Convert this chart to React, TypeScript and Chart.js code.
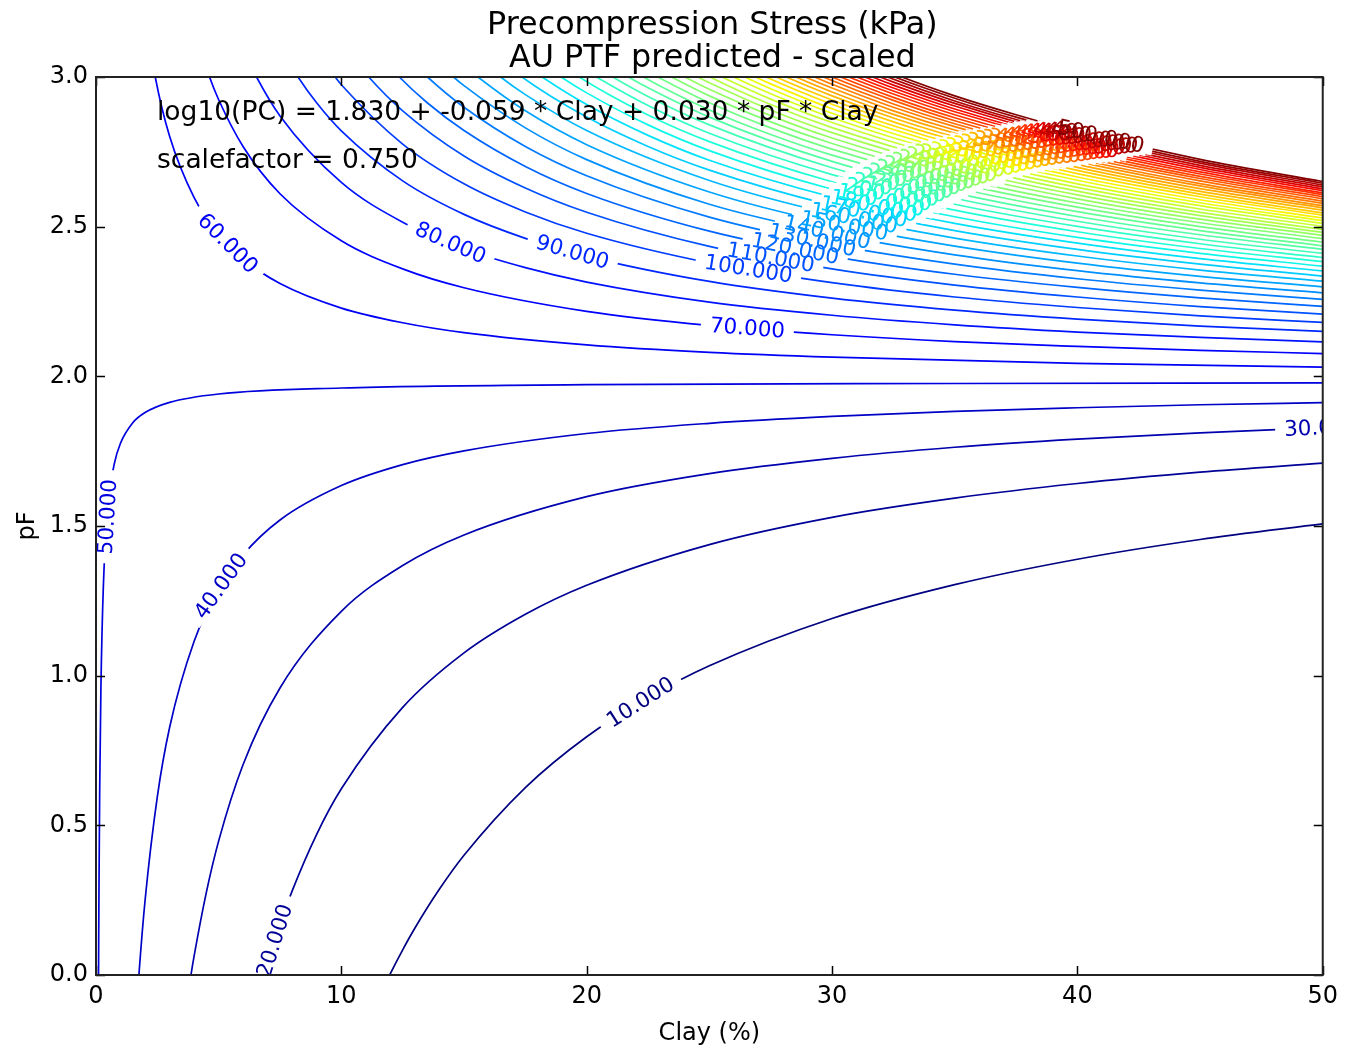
import React, { useEffect, useRef } from 'react';
import { Chart, registerables } from 'chart.js';

Chart.register(...registerables);

type Pt = [number, number];

const TITLE_LINES = ['Precompression Stress (kPa)', 'AU PTF predicted - scaled'];
const X_LABEL = 'Clay (%)';
const Y_LABEL = 'pF';
const NOTE_LINES = ['log10(PC) = 1.830 + -0.059 * Clay + 0.030 * pF * Clay', 'scalefactor = 0.750'];
const X_TICKS = [0, 10, 20, 30, 40, 50];
const Y_TICKS = [0, 0.5, 1.0, 1.5, 2.0, 2.5, 3.0];

const LEVELS = [10, 20, 30, 40, 50, 60, 70, 80, 90, 100, 110, 120, 130, 140, 150, 160, 170, 180, 190, 200,
  210, 220, 230, 240, 250, 260, 270, 280, 290, 300, 310, 320, 330, 340, 350, 360, 370, 380, 390, 400,
  410, 420, 430, 440, 450, 460, 470, 480, 490, 500];

// contour paths: [clay %, pF]
const L10: Pt[] = [[11.5, -0.081], [11.97, 0], [12.5, 0.084], [13, 0.157], [14, 0.287], [15, 0.4], [17.5, 0.626], [20, 0.796], [22.5, 0.927], [25, 1.033], [30, 1.191], [35, 1.304], [40, 1.389], [45, 1.455], [50, 1.507]];
const L20: Pt[] = [[6.5, -0.11], [6.86, 0], [7, 0.04], [7.5, 0.169], [8, 0.282], [9, 0.471], [10, 0.622], [12.5, 0.894], [15, 1.076], [17.5, 1.205], [20, 1.302], [25, 1.438], [30, 1.529], [35, 1.593], [40, 1.642], [45, 1.68], [50, 1.71]];
const L30: Pt[] = [[3.5, -0.21], [3.87, 0], [4, 0.064], [4.5, 0.277], [5, 0.448], [6, 0.704], [7.5, 0.959], [10, 1.215], [12.5, 1.368], [15, 1.47], [20, 1.598], [25, 1.675], [30, 1.726], [35, 1.763], [40, 1.79], [45, 1.811], [50, 1.828]];
const L40: Pt[] = [[1.6, -0.184], [1.749, 0], [2, 0.249], [2.5, 0.596], [3, 0.827], [4, 1.115], [5, 1.289], [6, 1.404], [7.5, 1.52], [10, 1.635], [12.5, 1.705], [15, 1.751], [20, 1.809], [25, 1.843], [30, 1.866], [35, 1.883], [40, 1.895], [45, 1.905], [50, 1.912]];
const L50: Pt[] = [[0.095, -0.175], [0.1034, 0], [0.11, 0.119], [0.12, 0.274], [0.15, 0.616], [0.2, 0.957], [0.3, 1.299], [0.5, 1.572], [0.75, 1.709], [1, 1.777], [1.5, 1.845], [2, 1.879], [3, 1.913], [5, 1.941], [10, 1.961], [20, 1.972], [35, 1.976], [50, 1.978]];
const L60: Pt[] = [[2, 3.211], [2.415, 3], [3, 2.802], [4, 2.597], [5, 2.474], [6, 2.392], [7.5, 2.31], [10, 2.228], [12.5, 2.179], [15, 2.146], [20, 2.105], [25, 2.08], [30, 2.064], [40, 2.043], [50, 2.031]];
const L70: Pt[] = [[4, 3.16], [4.628, 3], [5, 2.924], [6, 2.767], [7.5, 2.61], [10, 2.453], [12.5, 2.359], [15, 2.296], [20, 2.217], [25, 2.17], [30, 2.139], [35, 2.116], [40, 2.1], [45, 2.087], [50, 2.076]];
const L80: Pt[] = [[6, 3.092], [6.544, 3], [7.5, 2.87], [10, 2.648], [12.5, 2.515], [15, 2.426], [17.5, 2.363], [20, 2.315], [25, 2.248], [30, 2.204], [35, 2.172], [40, 2.148], [45, 2.13], [50, 2.115]];
const L90: Pt[] = [[7.5, 3.1], [8.235, 3], [9, 2.913], [10, 2.82], [12.5, 2.653], [15, 2.541], [17.5, 2.461], [20, 2.401], [25, 2.317], [30, 2.261], [35, 2.221], [40, 2.191], [45, 2.168], [50, 2.15]];
const L100: Pt[] = [[9, 3.084], [9.747, 3], [10, 2.974], [12.5, 2.776], [15, 2.643], [17.5, 2.549], [20, 2.478], [25, 2.379], [30, 2.313], [35, 2.265], [40, 2.23], [45, 2.202], [50, 2.18]];
const L110: Pt[] = [[10, 3.114], [11.115, 3], [12.5, 2.887], [15, 2.736], [17.5, 2.629], [20, 2.548], [25, 2.434], [30, 2.359], [35, 2.305], [40, 2.265], [45, 2.233], [50, 2.208]];
const L120: Pt[] = [[11, 3.126], [12.363, 3], [13.5, 2.914], [15, 2.821], [17.5, 2.701], [20, 2.611], [25, 2.485], [30, 2.401], [35, 2.341], [40, 2.297], [45, 2.262], [50, 2.234]];
const L130: Pt[] = [[12.5, 3.082], [13.512, 3], [15, 2.899], [17.5, 2.768], [20, 2.67], [25, 2.532], [30, 2.44], [35, 2.375], [40, 2.326], [45, 2.288], [50, 2.257]];
const L140: Pt[] = [[12.5, 3.169], [14.576, 3], [15, 2.971], [17.5, 2.83], [20, 2.724], [25, 2.575], [30, 2.477], [35, 2.406], [40, 2.353], [45, 2.312], [50, 2.279]];
const L150: Pt[] = [[15, 3.038], [15.566, 3], [17.5, 2.887], [20, 2.774], [25, 2.616], [30, 2.51], [35, 2.435], [40, 2.378], [45, 2.334], [50, 2.299]];
const L160: Pt[] = [[15, 3.101], [16.492, 3], [17.5, 2.941], [20, 2.821], [25, 2.654], [30, 2.542], [35, 2.462], [40, 2.402], [45, 2.355], [50, 2.318]];
const L170: Pt[] = [[15, 3.16], [17.362, 3], [20, 2.866], [22.5, 2.768], [25, 2.689], [30, 2.571], [35, 2.487], [40, 2.424], [45, 2.375], [50, 2.335]];
const L180: Pt[] = [[17.5, 3.04], [18.183, 3], [20, 2.908], [22.5, 2.805], [25, 2.722], [30, 2.599], [35, 2.511], [40, 2.445], [45, 2.393], [50, 2.352]];
const L190: Pt[] = [[17.5, 3.085], [18.958, 3], [20, 2.947], [22.5, 2.84], [25, 2.754], [30, 2.625], [35, 2.533], [40, 2.464], [45, 2.411], [50, 2.368]];
const L200: Pt[] = [[17.5, 3.128], [19.695, 3], [22.5, 2.873], [25, 2.784], [30, 2.65], [35, 2.555], [40, 2.483], [45, 2.427], [50, 2.383]];
const L210: Pt[] = [[20, 3.02], [20.395, 3], [22.5, 2.905], [25, 2.812], [30, 2.674], [35, 2.575], [40, 2.501], [45, 2.443], [50, 2.397]];
const L220: Pt[] = [[20, 3.054], [21.062, 3], [22.5, 2.935], [25, 2.84], [30, 2.697], [35, 2.595], [40, 2.518], [45, 2.458], [50, 2.411]];
const L230: Pt[] = [[20, 3.087], [21.701, 3], [22.5, 2.964], [25, 2.866], [30, 2.718], [35, 2.613], [40, 2.534], [45, 2.473], [50, 2.424]];
const L240: Pt[] = [[20, 3.118], [22.311, 3], [25, 2.89], [27.5, 2.808], [30, 2.739], [35, 2.631], [40, 2.55], [45, 2.487], [50, 2.436]];
const L250: Pt[] = [[22.5, 3.018], [22.897, 3], [25, 2.914], [27.5, 2.83], [30, 2.759], [35, 2.648], [40, 2.565], [45, 2.5], [50, 2.448]];
const L260: Pt[] = [[22.5, 3.043], [23.46, 3], [25, 2.937], [27.5, 2.85], [30, 2.778], [35, 2.664], [40, 2.579], [45, 2.513], [50, 2.46]];
const L270: Pt[] = [[22.5, 3.068], [24.002, 3], [25, 2.959], [27.5, 2.871], [30, 2.796], [35, 2.68], [40, 2.593], [45, 2.525], [50, 2.471]];
const L280: Pt[] = [[22.5, 3.092], [24.523, 3], [25, 2.981], [27.5, 2.89], [30, 2.814], [35, 2.695], [40, 2.606], [45, 2.537], [50, 2.481]];
const L290: Pt[] = [[22.5, 3.114], [25.027, 3], [27.5, 2.908], [30, 2.831], [35, 2.71], [40, 2.619], [45, 2.548], [50, 2.491]];
const L300: Pt[] = [[25, 3.021], [25.514, 3], [27.5, 2.926], [30, 2.848], [35, 2.724], [40, 2.631], [45, 2.559], [50, 2.501]];
const L310: Pt[] = [[25, 3.04], [25.985, 3], [27.5, 2.944], [30, 2.864], [35, 2.738], [40, 2.643], [45, 2.57], [50, 2.511]];
const L320: Pt[] = [[25, 3.059], [26.44, 3], [27.5, 2.961], [30, 2.879], [35, 2.751], [40, 2.655], [45, 2.58], [50, 2.52]];
const L330: Pt[] = [[25, 3.077], [26.881, 3], [27.5, 2.977], [30, 2.894], [35, 2.764], [40, 2.666], [45, 2.59], [50, 2.529]];
const L340: Pt[] = [[25, 3.094], [27.311, 3], [30, 2.909], [32.5, 2.837], [35, 2.776], [40, 2.677], [45, 2.6], [50, 2.538]];
const L350: Pt[] = [[25, 3.111], [27.726, 3], [30, 2.923], [32.5, 2.85], [35, 2.788], [40, 2.688], [45, 2.609], [50, 2.546]];
const L360: Pt[] = [[27.5, 3.023], [28.131, 3], [30, 2.937], [32.5, 2.863], [35, 2.8], [40, 2.698], [45, 2.618], [50, 2.555]];
const L370: Pt[] = [[27.5, 3.038], [28.524, 3], [30, 2.95], [32.5, 2.875], [35, 2.812], [40, 2.708], [45, 2.627], [50, 2.563]];
const L380: Pt[] = [[27.5, 3.052], [28.907, 3], [30, 2.963], [32.5, 2.887], [35, 2.823], [40, 2.718], [45, 2.636], [50, 2.57]];
const L390: Pt[] = [[27.5, 3.066], [29.279, 3], [30, 2.976], [32.5, 2.899], [35, 2.834], [40, 2.727], [45, 2.644], [50, 2.578]];
const L400: Pt[] = [[27.5, 3.079], [29.642, 3], [32.5, 2.91], [35, 2.844], [40, 2.736], [45, 2.653], [50, 2.585]];
const L410: Pt[] = [[27.5, 3.092], [29.997, 3], [32.5, 2.922], [35, 2.854], [40, 2.745], [45, 2.661], [50, 2.593]];
const L420: Pt[] = [[30, 3.012], [30.343, 3], [32.5, 2.932], [35, 2.864], [40, 2.754], [45, 2.668], [50, 2.6]];
const L430: Pt[] = [[30, 3.023], [30.681, 3], [32.5, 2.943], [35, 2.874], [40, 2.763], [45, 2.676], [50, 2.607]];
const L440: Pt[] = [[30, 3.034], [31.01, 3], [32.5, 2.953], [35, 2.884], [40, 2.771], [45, 2.683], [50, 2.613]];
const L450: Pt[] = [[30, 3.045], [31.333, 3], [32.5, 2.963], [35, 2.893], [40, 2.779], [45, 2.691], [50, 2.62]];
const L460: Pt[] = [[30, 3.056], [31.649, 3], [32.5, 2.973], [35, 2.903], [40, 2.787], [45, 2.698], [50, 2.626]];
const L470: Pt[] = [[30, 3.066], [31.957, 3], [32.5, 2.983], [35, 2.912], [40, 2.795], [45, 2.705], [50, 2.633]];
const L480: Pt[] = [[30, 3.077], [32.26, 3], [35, 2.92], [37.5, 2.858], [40, 2.803], [45, 2.712], [50, 2.639]];
const L490: Pt[] = [[30, 3.087], [32.555, 3], [35, 2.929], [37.5, 2.866], [40, 2.811], [45, 2.718], [50, 2.645]];
const L500: Pt[] = [[30, 3.097], [32.845, 3], [35, 2.937], [37.5, 2.874], [40, 2.818], [45, 2.725], [50, 2.651]];

const CONTOURS: Pt[][] = [L10, L20, L30, L40, L50, L60, L70, L80, L90, L100, L110, L120, L130, L140, L150,
  L160, L170, L180, L190, L200, L210, L220, L230, L240, L250, L260, L270, L280, L290, L300, L310, L320,
  L330, L340, L350, L360, L370, L380, L390, L400, L410, L420, L430, L440, L450, L460, L470, L480, L490, L500];

// inline contour labels: [level, clay position of label centre]
const LABEL_AT: Pt[] = [[10, 22.19], [20, 7.29], [30, 49.96], [40, 5.09], [50, 0.47], [60, 5.37], [70, 26.55],
  [80, 14.45], [90, 19.42], [100, 26.59], [110, 27.5], [120, 28.5], [130, 29.2], [140, 29.8], [150, 30.5],
  [160, 30.9], [170, 31.3], [180, 31.7], [190, 32.0], [200, 32.3], [210, 32.6], [220, 32.9], [230, 33.2],
  [240, 33.5], [250, 33.8], [260, 34.1], [270, 34.4], [280, 34.7], [290, 35.0], [300, 35.3], [310, 35.7],
  [320, 36.0], [330, 36.3], [340, 36.6], [350, 36.9], [360, 37.2], [370, 37.5], [380, 37.8], [390, 38.1],
  [400, 38.4], [410, 38.7], [420, 38.95], [430, 39.2], [440, 39.45], [450, 39.7], [460, 39.95], [470, 40.2],
  [480, 40.45], [490, 40.7], [500, 40.95]];

const FONT = '"DejaVu Sans", "Liberation Sans", sans-serif';

function jet(t: number): string {
  const seg = (pts: number[][]) => {
    for (let i = 0; i < pts.length - 1; i++) {
      const [x0, y0] = pts[i];
      const [x1, y1] = pts[i + 1];
      if (t <= x1) return y0 + ((y1 - y0) * (t - x0)) / (x1 - x0);
    }
    return pts[pts.length - 1][1];
  };
  const r = seg([[0, 0], [0.35, 0], [0.66, 1], [0.89, 1], [1, 0.5]]);
  const g = seg([[0, 0], [0.125, 0], [0.375, 1], [0.64, 1], [0.91, 0], [1, 0]]);
  const b = seg([[0, 0.5], [0.11, 1], [0.34, 1], [0.65, 0], [1, 0]]);
  return `rgb(${Math.round(r * 255)},${Math.round(g * 255)},${Math.round(b * 255)})`;
}

const levelColor = (lv: number) => {
  const lo = LEVELS[0];
  const hi = LEVELS[LEVELS.length - 1];
  return jet((lv - lo) / (hi - lo));
};

const decorPlugin = {
  id: 'decor',
  afterDatasetsDraw(chart: any) {
    const ctx: CanvasRenderingContext2D = chart.ctx;
    const area = chart.chartArea;
    const xs = chart.scales.x;
    const ys = chart.scales.y;

    // contour labels
    const geoms: any[] = [];
    LABEL_AT.forEach(([lv, clay]) => {
      const idx = LEVELS.indexOf(lv);
      const pts = CONTOURS[idx];
      for (let i = 0; i < pts.length - 1; i++) {
        const [x0, y0] = pts[i];
        const [x1, y1] = pts[i + 1];
        if (clay >= x0 && clay <= x1) {
          const f = (clay - x0) / (x1 - x0);
          const px0 = xs.getPixelForValue(x0);
          const py0 = ys.getPixelForValue(y0);
          const px1 = xs.getPixelForValue(x1);
          const py1 = ys.getPixelForValue(y1);
          geoms.push({
            lv,
            x: px0 + (px1 - px0) * f,
            y: py0 + (py1 - py0) * f,
            a: Math.atan2(py1 - py0, px1 - px0),
          });
          break;
        }
      }
    });
    ctx.save();
    ctx.beginPath();
    ctx.rect(area.left, area.top, area.right - area.left, area.bottom - area.top);
    ctx.clip();
    ctx.font = `21.5px ${FONT}`;
    geoms.forEach((g) => {
      const w = ctx.measureText(g.lv.toFixed(3)).width + 18;
      ctx.save();
      ctx.translate(g.x, g.y);
      ctx.rotate(g.a);
      ctx.fillStyle = '#ffffff';
      ctx.fillRect(-w / 2, -7, w, 14);
      ctx.restore();
    });
    ctx.textAlign = 'center';
    ctx.textBaseline = 'middle';
    geoms.forEach((g) => {
      ctx.save();
      ctx.translate(g.x, g.y);
      ctx.rotate(g.a);
      ctx.fillStyle = levelColor(g.lv);
      ctx.fillText(g.lv.toFixed(3), 0, 1);
      ctx.restore();
    });
    ctx.restore();

    // frame and inward ticks
    ctx.save();
    ctx.strokeStyle = '#000';
    ctx.lineWidth = 1.5;
    const tl = 9;
    X_TICKS.forEach((v) => {
      const px = Math.round(xs.getPixelForValue(v)) + 0.5;
      ctx.beginPath();
      ctx.moveTo(px, area.bottom);
      ctx.lineTo(px, area.bottom - tl);
      ctx.moveTo(px, area.top);
      ctx.lineTo(px, area.top + tl);
      ctx.stroke();
    });
    Y_TICKS.forEach((v) => {
      const py = Math.round(ys.getPixelForValue(v)) + 0.5;
      ctx.beginPath();
      ctx.moveTo(area.left, py);
      ctx.lineTo(area.left + tl, py);
      ctx.moveTo(area.right, py);
      ctx.lineTo(area.right - tl, py);
      ctx.stroke();
    });
    ctx.lineWidth = 2;
    ctx.strokeStyle = '#222';
    ctx.strokeRect(area.left, area.top, area.right - area.left, area.bottom - area.top);
    ctx.restore();

    // text annotations
    ctx.save();
    ctx.fillStyle = '#000';
    ctx.textBaseline = 'alphabetic';
    ctx.textAlign = 'left';
    ctx.font = `26.5px ${FONT}`;
    ctx.fillText(NOTE_LINES[0], area.left + 61, area.top + 43);
    ctx.fillText(NOTE_LINES[1], area.left + 61, area.top + 91);

    ctx.textAlign = 'center';
    ctx.font = `31.8px ${FONT}`;
    const cx = (area.left + area.right) / 2 + 3;
    ctx.fillText(TITLE_LINES[0], cx, 34);
    ctx.fillText(TITLE_LINES[1], cx, 67);

    ctx.font = `24px ${FONT}`;
    ctx.fillText(X_LABEL, (area.left + area.right) / 2, 1040);
    ctx.translate(34, (area.top + area.bottom) / 2);
    ctx.rotate(-Math.PI / 2);
    ctx.fillText(Y_LABEL, 0, 0);
    ctx.restore();
  },
};

export default function App() {
  const ref = useRef<HTMLCanvasElement | null>(null);

  useEffect(() => {
    if (!ref.current) return;
    Chart.defaults.font.family = FONT;
    const datasets = LEVELS.map((lv, i) => ({
      label: lv.toFixed(3),
      data: CONTOURS[i].map(([x, y]) => ({ x, y })),
      showLine: true,
      borderColor: levelColor(lv),
      backgroundColor: levelColor(lv),
      borderWidth: 1.7,
      pointRadius: 0,
      pointHoverRadius: 0,
      cubicInterpolationMode: 'monotone' as const,
      capBezierPoints: false,
      fill: false,
      clip: 0,
    }));
    const chart = new Chart(ref.current, {
      type: 'scatter',
      data: { datasets },
      options: {
        animation: false,
        responsive: false,
        devicePixelRatio: 1,
        events: [],
        layout: { padding: { left: 0, right: 21, top: 77, bottom: 0 } },
        plugins: {
          legend: { display: false },
          tooltip: { enabled: false },
          title: { display: false },
        },
        elements: { line: { capBezierPoints: false } },
        scales: {
          x: {
            type: 'linear',
            min: 0,
            max: 50,
            afterBuildTicks: (s: any) => {
              s.ticks = X_TICKS.map((v) => ({ value: v }));
            },
            afterFit: (s: any) => {
              s.height = 73;
            },
            ticks: {
              color: '#000',
              font: { size: 24, family: FONT },
              padding: 7,
              maxRotation: 0,
              autoSkip: false,
              callback: (v: any) => String(v),
            },
            grid: { display: false, drawTicks: false },
            border: { display: false },
          },
          y: {
            type: 'linear',
            min: 0,
            max: 3,
            afterBuildTicks: (s: any) => {
              s.ticks = Y_TICKS.map((v) => ({ value: v }));
            },
            afterFit: (s: any) => {
              s.width = 96;
            },
            ticks: {
              color: '#000',
              font: { size: 24, family: FONT },
              padding: 8,
              autoSkip: false,
              callback: (v: any) => Number(v).toFixed(1),
            },
            grid: { display: false, drawTicks: false },
            border: { display: false },
          },
        },
      },
      plugins: [decorPlugin],
    } as any);
    return () => chart.destroy();
  }, []);

  return (
    <div style={{ position: 'absolute', left: 0, top: 0, width: 1345, height: 1048, background: '#fff' }}>
      <canvas ref={ref} width={1345} height={1048} style={{ display: 'block' }} />
    </div>
  );
}
